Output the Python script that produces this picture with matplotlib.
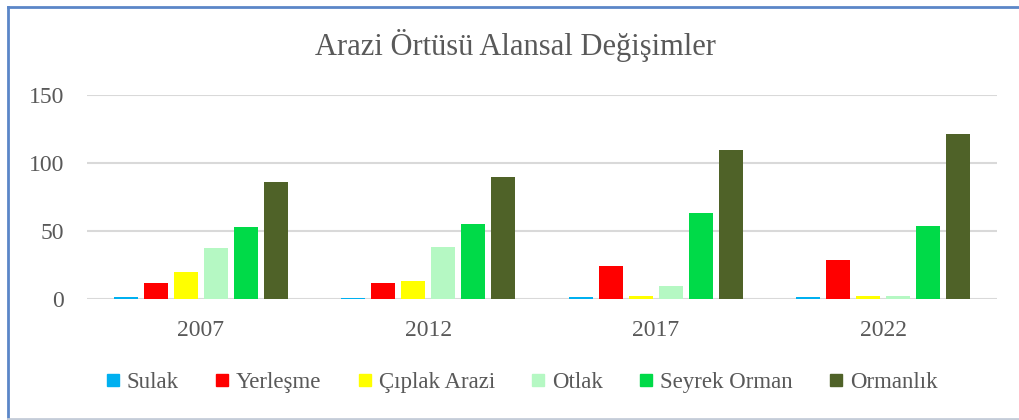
"""Land cover area changes by year, grouped bar chart."""

import matplotlib.pyplot as plt
import numpy as np
from matplotlib.lines import Line2D

YEARS = ["2007", "2012", "2017", "2022"]
CLASSES = ["Sulak", "Yerleşme", "Çıplak Arazi", "Otlak", "Seyrek Orman", "Ormanlık"]

SULAK = [1.5, 1.0, 1.5, 1.5]
YERLESME = [12, 12, 24.5, 29]
CIPLAK = [20, 13, 2, 2]
OTLAK = [37.5, 38, 9.5, 2.5]
SEYREK = [53, 55.5, 63, 54]
ORMANLIK = [86, 90, 109.5, 121]

COLORS = ["#00b0f0", "#ff0000", "#ffff00", "#b5f8c3", "#00da48", "#4f6228"]
TEXT_COLOR = "#595959"

plt.rcParams["font.family"] = ["Liberation Serif", "DejaVu Serif"]

series = [SULAK, YERLESME, CIPLAK, OTLAK, SEYREK, ORMANLIK]

fig = plt.figure(figsize=(10.19, 4.2), dpi=100)
ax = fig.add_axes([87 / 1019, 1 - 299 / 420, 910 / 1019, 204 / 420])

x = np.arange(len(YEARS))
pitch = 0.132
width = 0.105
for i, (name, values, color) in enumerate(zip(CLASSES, series, COLORS)):
    offset = (i - (len(series) - 1) / 2) * pitch
    ax.bar(x + offset, values, width, color=color, label=name, zorder=3)

ax.set_xlim(-0.5, len(YEARS) - 0.5)
ax.set_ylim(0, 150)
ax.set_yticks([0, 50, 100, 150])
ax.set_xticks(x)
ax.set_xticklabels(YEARS)
ax.grid(axis="y", color="#d9d9d9", linewidth=1.5, zorder=0)
for side in ["top", "right", "left", "bottom"]:
    ax.spines[side].set_visible(False)
ax.tick_params(axis="both", length=0, labelsize=17, colors=TEXT_COLOR)
ax.tick_params(axis="y", pad=16.5)
ax.tick_params(axis="x", pad=15)

fig.text(0.506, 1 - 46 / 420, "Arazi Örtüsü Alansal Değişimler",
         ha="center", va="center", fontsize=22, color=TEXT_COLOR)

handles = [
    Line2D([], [], marker="s", linestyle="none", markersize=8,
           markerfacecolor=c, markeredgecolor=c)
    for c in COLORS
]
fig.legend(handles, CLASSES, loc="center", bbox_to_anchor=(0.512, 1 - 382 / 420),
           ncol=len(CLASSES), frameon=False, fontsize=16.5, labelcolor=TEXT_COLOR,
           handlelength=0.6, handletextpad=0.3, columnspacing=1.6)

# chart frame: blue on top and left, grey at the bottom
frame_blue = "#5b86c8"
fig.add_artist(Line2D([8 / 1019, 8 / 1019], [0, 1 - 6.5 / 420],
                      transform=fig.transFigure, color=frame_blue, linewidth=2))
fig.add_artist(Line2D([8 / 1019, 1], [1 - 6.5 / 420, 1 - 6.5 / 420],
                      transform=fig.transFigure, color=frame_blue, linewidth=2))
fig.add_artist(Line2D([8 / 1019, 1], [1 / 420, 1 / 420],
                      transform=fig.transFigure, color="#c4ccd8", linewidth=2))

fig.savefig("out.png", dpi=100)
